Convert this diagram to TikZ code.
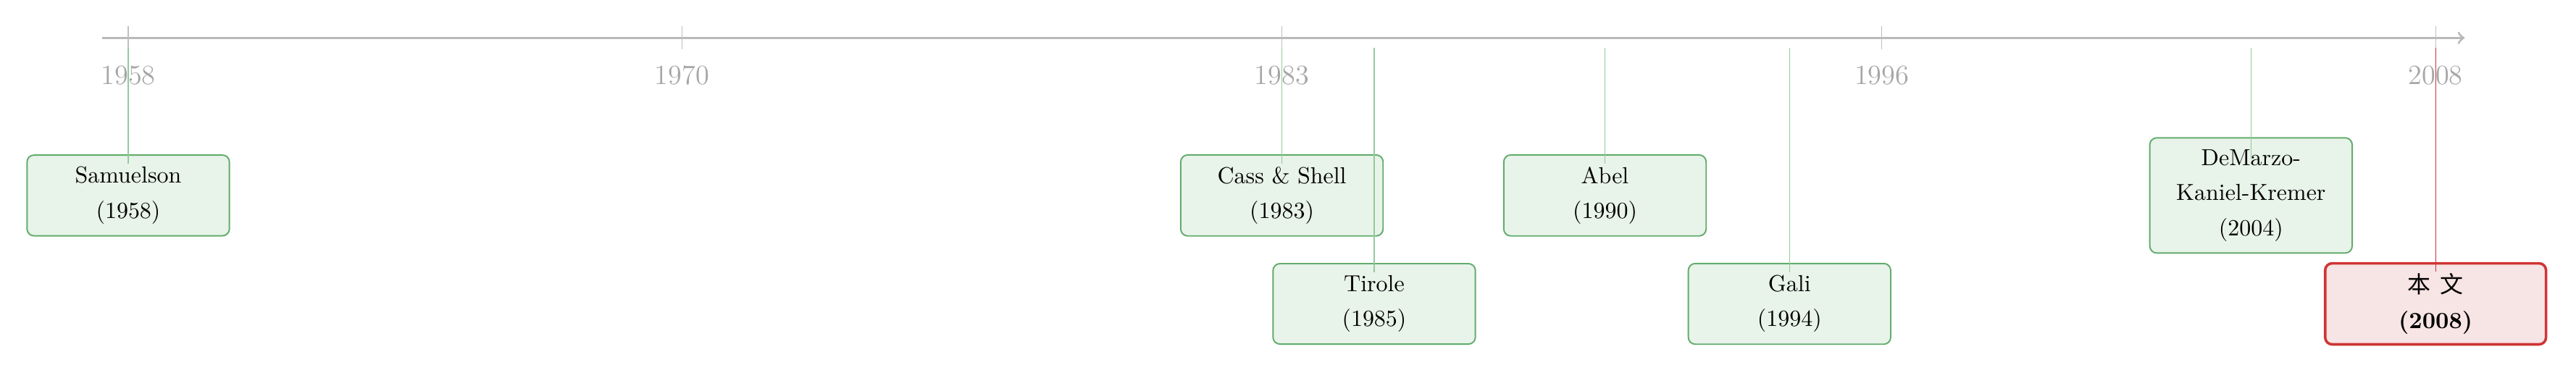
\documentclass[tikz,border=0pt]{standalone}
\usepackage{fontspec}
\newfontfamily\cjk{Noto Sans CJK SC}
\definecolor{evborder}{RGB}{98,172,108}
\definecolor{evfill}{RGB}{232,243,233}
\definecolor{evline}{RGB}{146,202,156}
\definecolor{nowborder}{RGB}{208,52,52}
\definecolor{nowfill}{RGB}{247,228,229}
\definecolor{nowline}{RGB}{196,50,50}

\begin{document}
\begin{tikzpicture}[x=0.7cm, every node/.style={font=\fontsize{10}{15.1}\selectfont},
        event/.style={draw=evborder, fill=evfill, line width=0.6pt, rounded corners=3pt, align=center,
            minimum width=3.07cm, minimum height=1.22cm, inner ysep=5.1pt},
        now/.style={draw=nowborder, fill=nowfill, line width=1.1pt, rounded corners=3pt, align=center,
            minimum width=3.35cm, minimum height=1.23cm, inner ysep=3pt},
        yearlbl/.style={text=gray!70, font=\large}]
            \useasboundingbox (-1.945cm,0.575cm) rectangle (37.13cm,-5.074cm);
            % time axis
            \draw[->, line width=1pt, gray!55] (-0.566,0) -- (50.63,0);
            \foreach \yr in {1958,1970,1983,1996,2008}{
                \draw[gray!50] (\yr-1958,0.175) -- (\yr-1958,-0.175);
                \node[yearlbl] (yr\yr) at (\yr-1958,-0.568) {\yr};
            }
            % earlier papers
            \foreach \yr/\who/\row/\dip in {1958/Samuelson/-2.39/4pt, 1983/Cass \& Shell/-2.39/4pt,
                    1985/Tirole/-4.035/4pt, 1990/Abel/-2.39/4pt, 1994/Gali/-4.035/4pt,
                    2004/{DeMarzo-\\Kaniel-Kremer}/-2.39/9.5pt}{
                \node[event] (ev\yr) at (\yr-1958,\row) {\who\\(\yr)};
                \coordinate (top\yr) at (\yr-1958,-0.15);
                \draw[evline] (top\yr) -- ([yshift=-\dip]ev\yr.north);
            }
            % this paper
            \node[now] (ev2008) at (50,-4.035) {{\cjk 本\hspace{4pt}文}\\\textbf{(2008)}};
            \coordinate (top2008) at (50,-0.15);
            \draw[nowline] (top2008) -- ([yshift=-4pt]ev2008.north);
        \end{tikzpicture}
\end{document}
